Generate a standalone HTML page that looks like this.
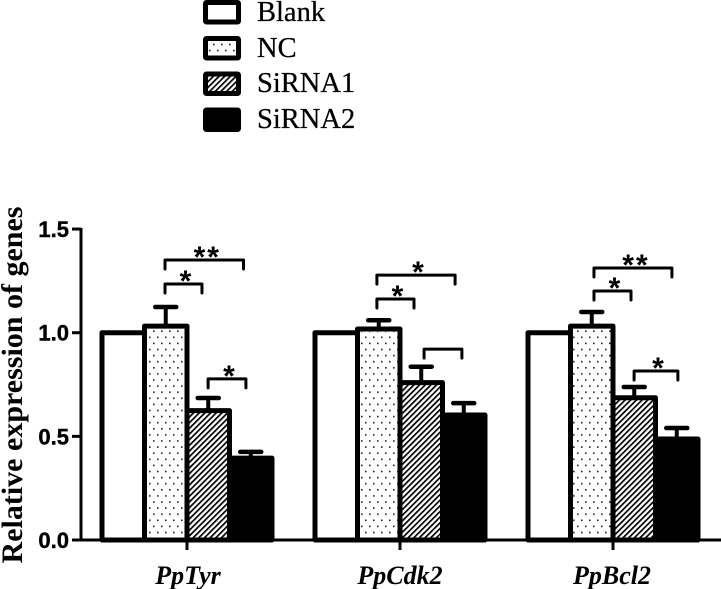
<!DOCTYPE html>
<html>
<head>
<meta charset="utf-8">
<title>Relative expression of genes</title>
<style>
html,body{margin:0;padding:0;background:#fff;}
body{width:721px;height:589px;overflow:hidden;}
svg{display:block;}
</style>
</head>
<body>
<svg id="chart" xmlns="http://www.w3.org/2000/svg" width="721" height="589" viewBox="0 0 721 589">
  <defs>
    <pattern id="dots" patternUnits="userSpaceOnUse" x="0" y="0" width="8" height="12.2">
      <rect x="1" y="1" width="1.6" height="1.6" fill="#222"/>
      <rect x="5" y="7.1" width="1.6" height="1.6" fill="#222"/>
    </pattern>
    <pattern id="hatch" patternUnits="userSpaceOnUse" width="4" height="4" patternTransform="rotate(45)">
      <rect x="0" y="0" width="4" height="4" fill="#fff"/>
      <rect x="0" y="0" width="1.7" height="4" fill="#000"/>
    </pattern>
  </defs>
</svg>
<script>
var categories = ['PpTyr', 'PpCdk2', 'PpBcl2'];
var seriesNames = ['Blank', 'NC', 'SiRNA1', 'SiRNA2'];
var blankValues = [1.0, 1.0, 1.0];
var ncValues = [1.032, 1.018, 1.032];
var sirna1Values = [0.624, 0.759, 0.686];
var sirna2Values = [0.395, 0.603, 0.487];
var blankErrors = [0, 0, 0];
var ncErrors = [0.092, 0.042, 0.068];
var sirna1Errors = [0.061, 0.077, 0.052];
var sirna2Errors = [0.030, 0.057, 0.053];
var yTicks = ['0.0', '0.5', '1.0', '1.5'];
var significanceGroups = [0, 0, 0, 1, 1, 1, 2, 2, 2];
var significanceFrom = [1.006, 1.006, 2.02, 0.98, 0.98, 2.09, 1.076, 1.076, 2.02];
var significanceTo = [2.853, 1.876, 2.91, 2.82, 1.853, 2.98, 2.91, 1.947, 3.05];
var significanceLevels = [1.351, 1.235, 0.777, 1.278, 1.1625, 0.921, 1.312, 1.201, 0.815];
var significanceLabels = ['**', '*', '*', '*', '*', '', '**', '*', '*'];

var NS = 'http://www.w3.org/2000/svg';
var svg = document.getElementById('chart');
var valueSeries = [blankValues, ncValues, sirna1Values, sirna2Values];
var errorSeries = [blankErrors, ncErrors, sirna1Errors, sirna2Errors];
var seriesFills = ['#fff', 'url(#dots)', 'url(#hatch)', '#000'];

function yScale(v) { return 540 - v * 207.3; }
function xGroup(g) { return 102 + g * 213; }
function xBar(g, s) { return xGroup(g) + s * 42.5; }
function mk(tag, attrs, parent) {
  var el = document.createElementNS(NS, tag);
  for (var k in attrs) el.setAttribute(k, attrs[k]);
  (parent || svg).appendChild(el);
  return el;
}
function slug(s) { return s.toLowerCase(); }

/* legend */
var legendY = [0, 36, 71.5, 107.5];
var legendTextY = [21, 57, 92, 128];
for (var i = 0; i < seriesNames.length; i++) {
  var box = mk('rect', {x: 205.5, y: legendY[i] + 2.5, width: 33, height: 19.5, rx: 1,
    fill: seriesFills[i], stroke: '#000', 'stroke-width': 5, 'stroke-linejoin': 'round'});
  
  
  var lt = mk('text', {x: 257, y: legendTextY[i], 'font-family': '"Liberation Serif", serif', 'font-size': 28.5,
    fill: '#000', stroke: '#000', 'stroke-width': 0.25});
  lt.textContent = seriesNames[i];
  
  
}

/* bars */
for (var g = 0; g < categories.length; g++) {
  for (var s = 0; s < seriesNames.length; s++) {
    var val = valueSeries[s][g], err = errorSeries[s][g];
    var bx = xBar(g, s), by = yScale(val);
    if (err > 0) {
      var cx = bx + 21.25, ey = yScale(val + err);
      var errLine = mk('line', {x1: cx, x2: cx, y1: by, y2: ey, stroke: '#000', 'stroke-width': 4});
      
      
      var cap = mk('line', {x1: cx - 10.5, x2: cx + 10.5, y1: ey, y2: ey, stroke: '#000', 'stroke-width': 4.5, 'stroke-linecap': 'round'});
      
      
    }
    var bar = mk('rect', {x: bx, y: by, width: 42.5, height: 540 - by,
      fill: seriesFills[s], stroke: '#000', 'stroke-width': 5, 'stroke-linejoin': 'round'});
    
    
  }
}

/* axes */
var yAxis = mk('line', {x1: 81, x2: 81, y1: 228, y2: 541.5, stroke: '#000', 'stroke-width': 3});


var xAxis = mk('line', {x1: 72, x2: 721, y1: 540, y2: 540, stroke: '#000', 'stroke-width': 3});



yTicks.forEach(function (t) {
  var y = yScale(parseFloat(t));
  var tick = mk('line', {x1: 72, x2: 81, y1: y, y2: y, stroke: '#000', 'stroke-width': 3});
  
  
  var label = mk('text', {x: 69, y: y + 8, 'text-anchor': 'end',
    'font-family': '"Liberation Sans", sans-serif', 'font-weight': 'bold', 'font-size': 22,
    fill: '#000', stroke: '#000', 'stroke-width': 0.4});
  label.textContent = t;
  
  
});

categories.forEach(function (c, g) {
  var cx = xBar(g, 2);
  var tick = mk('line', {x1: cx, x2: cx, y1: 540, y2: 550, stroke: '#000', 'stroke-width': 3});
  
  
  var label = mk('text', {x: cx + 1 - g, y: 584, 'text-anchor': 'middle',
    'font-family': '"Liberation Serif", serif', 'font-weight': 'bold', 'font-style': 'italic', 'font-size': 26, fill: '#000'});
  label.textContent = c;
  
  
});

/* y-axis title */
var yTitle = mk('text', {x: 0, y: 0, transform: 'translate(22 385) rotate(-90)', 'text-anchor': 'middle',
  'font-family': '"Liberation Serif", serif', 'font-weight': 'bold', 'font-size': 30, fill: '#000'});
yTitle.textContent = 'Relative expression of genes';



/* significance brackets */
for (var b = 0; b < significanceGroups.length; b++) {
  var sg = significanceGroups[b];
  var x1 = xBar(sg, significanceFrom[b]) + 20.25;
  var x2 = xBar(sg, significanceTo[b]) + 20.25;
  var y = yScale(significanceLevels[b]);
  var bracket = mk('path', {d: 'M' + x1 + ' ' + (y + 9) + 'V' + y + 'H' + x2 + 'V' + (y + 9),
    fill: 'none', stroke: '#000', 'stroke-width': 3, 'stroke-linecap': 'round', 'stroke-linejoin': 'round'});
  
  
  if (significanceLabels[b]) {
    var star = mk('text', {x: (x1 + x2) / 2 + 3, y: y + 7, 'text-anchor': 'middle', 'letter-spacing': '2',
      'font-family': '"Liberation Sans", sans-serif', 'font-weight': 'bold', 'font-size': 30, fill: '#000'});
    star.textContent = significanceLabels[b];
    
    
  }
}
</script>
</body>
</html>
